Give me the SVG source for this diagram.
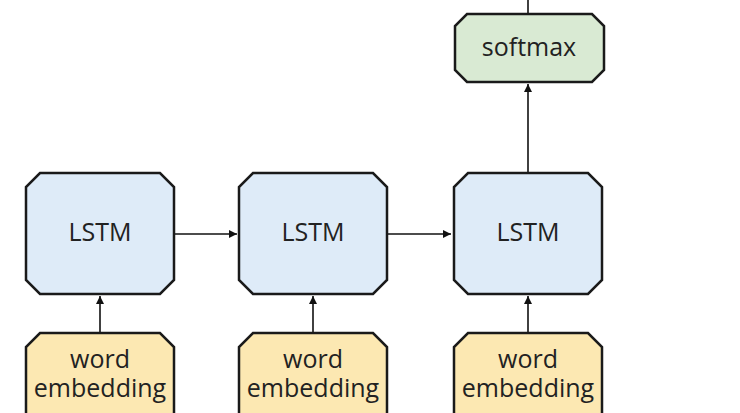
<svg xmlns="http://www.w3.org/2000/svg" width="740" height="413" viewBox="0 0 740 413">
<style>
.box{stroke:#1a1a1a;stroke-width:2.5;stroke-linejoin:miter}
.lstm{fill:#deebf8}
.soft{fill:#d9ead3}
.emb{fill:#fce8b2}
.t{font-family:"Open Sans","Noto Sans",sans-serif;font-size:25px;fill:#222;text-anchor:middle}
.c{stroke:#111;stroke-width:1.6;fill:none}
</style>
<defs>
<marker id="ah" viewBox="0 0 10 10" refX="10" refY="5" markerWidth="8" markerHeight="8" markerUnits="userSpaceOnUse" orient="auto">
<path d="M0,0 L10,5 L0,10 z" fill="#111"/>
</marker>
</defs>
<g id="connectors">
<line class="c" x1="100" y1="333" x2="100" y2="296" marker-end="url(#ah)"/>
<line class="c" x1="313" y1="333" x2="313" y2="296" marker-end="url(#ah)"/>
<line class="c" x1="528" y1="333" x2="528" y2="296" marker-end="url(#ah)"/>
<line class="c" x1="174" y1="234" x2="237" y2="234" marker-end="url(#ah)"/>
<line class="c" x1="388" y1="234" x2="451" y2="234" marker-end="url(#ah)"/>
<line class="c" x1="528" y1="173" x2="528" y2="84" marker-end="url(#ah)"/>
<line class="c" x1="528" y1="14" x2="528" y2="0"/>
</g>
<g id="softmax">
<path class="box soft" d="M467,14 H592 L604,26 V70 L592,82 H467 L455,70 V26 Z"/>
<text class="t" x="529" y="56">softmax</text>
</g>
<g id="lstm1">
<path class="box lstm" d="M40,173 H160 L174,187 V280 L160,294 H40 L26,280 V187 Z"/>
<text class="t" x="100" y="241">LSTM</text>
</g>
<g id="lstm2">
<path class="box lstm" d="M253,173 H373 L387,187 V280 L373,294 H253 L239,280 V187 Z"/>
<text class="t" x="313" y="241">LSTM</text>
</g>
<g id="lstm3">
<path class="box lstm" d="M468,173 H588 L602,187 V280 L588,294 H468 L454,280 V187 Z"/>
<text class="t" x="528" y="241">LSTM</text>
</g>
<g id="emb1">
<path class="box emb" d="M40,333 H160 L174,347 V420 H26 V347 Z"/>
<text class="t" x="100" y="368">word</text>
<text class="t" x="100" y="397">embedding</text>
</g>
<g id="emb2">
<path class="box emb" d="M253,333 H373 L387,347 V420 H239 V347 Z"/>
<text class="t" x="313" y="368">word</text>
<text class="t" x="313" y="397">embedding</text>
</g>
<g id="emb3">
<path class="box emb" d="M468,333 H588 L602,347 V420 H454 V347 Z"/>
<text class="t" x="528" y="368">word</text>
<text class="t" x="528" y="397">embedding</text>
</g>
</svg>
